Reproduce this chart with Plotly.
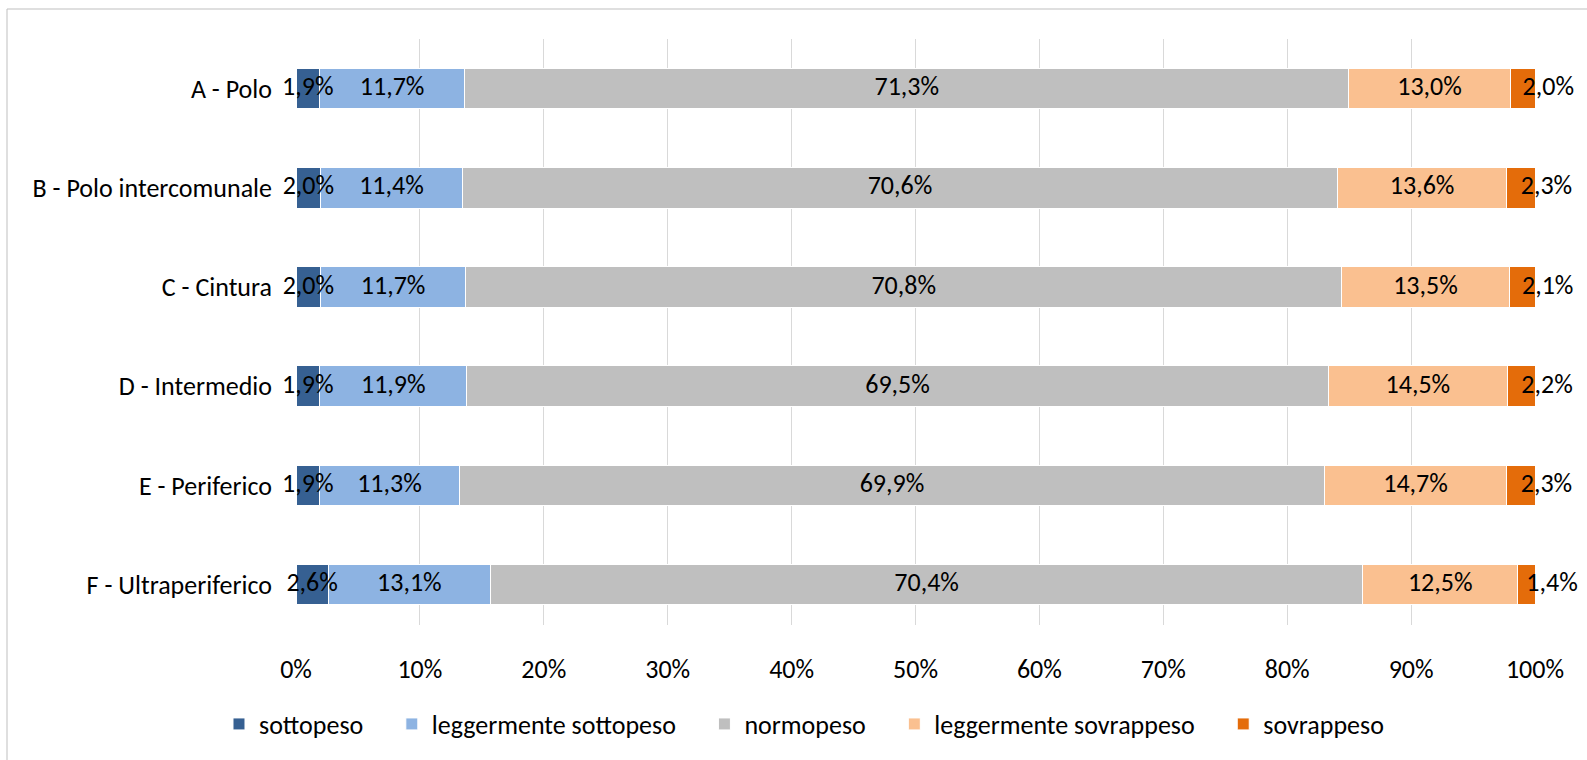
import plotly.graph_objects as go

categories = ["A - Polo", "B - Polo intercomunale", "C - Cintura", "D - Intermedio",
              "E - Periferico", "F - Ultraperiferico"]
sottopeso = [1.9, 2.0, 2.0, 1.9, 1.9, 2.6]
legg_sottopeso = [11.7, 11.4, 11.7, 11.9, 11.3, 13.1]
normopeso = [71.3, 70.6, 70.8, 69.5, 69.9, 70.4]
legg_sovrappeso = [13.0, 13.6, 13.5, 14.5, 14.7, 12.5]
sovrappeso = [2.0, 2.3, 2.1, 2.2, 2.3, 1.4]
series_names = ["sottopeso", "leggermente sottopeso", "normopeso",
                "leggermente sovrappeso", "sovrappeso"]
tick_vals = [0, 10, 20, 30, 40, 50, 60, 70, 80, 90, 100]
tick_text = ["0%", "10%", "20%", "30%", "40%", "50%", "60%", "70%", "80%", "90%", "100%"]

colors = ["#366092", "#8DB3E2", "#BFBFBF", "#FAC090", "#E46C0A"]
FONT = "Calibri, Carlito, Lato, sans-serif"
FS = 26

series = [sottopeso, legg_sottopeso, normopeso, legg_sovrappeso, sovrappeso]
NB = "\u00a0"

fig = go.Figure()
for k, (name, vals, col) in enumerate(zip(series_names, series, colors)):
    pad = NB * 4 if k < len(series_names) - 1 else ""
    fig.add_trace(go.Bar(
        y=categories, x=vals, name=name + pad, orientation="h",
        marker=dict(color=col, line=dict(color="white", width=1)),
        textposition="none", hoverinfo="skip",
    ))

# data labels centred on each (normalised) segment; last segment label to the right
cx, cy, ct = [], [], []
rx, ry, rt = [], [], []
for i, cat in enumerate(categories):
    row = [s[i] for s in series]
    tot = sum(row)
    cum = 0.0
    for j, v in enumerate(row):
        mid = (cum + v / 2) / tot * 100
        lab = f"{v:.1f}%".replace(".", ",")
        if j == len(row) - 1:
            rx.append(mid); ry.append(cat); rt.append(lab)
        else:
            cx.append(mid); cy.append(cat); ct.append(lab)
        cum += v
fig.add_trace(go.Scatter(x=cx, y=cy, text=ct, mode="text", showlegend=False,
                         textposition="middle center", cliponaxis=False,
                         textfont=dict(color="black", size=FS, family=FONT),
                         hoverinfo="skip"))
fig.add_trace(go.Scatter(x=rx, y=ry, text=rt, mode="text", showlegend=False,
                         textposition="middle right", cliponaxis=False,
                         textfont=dict(color="black", size=FS, family=FONT),
                         hoverinfo="skip"))

fig.update_layout(
    barmode="stack", barnorm="percent", bargap=0.59,
    width=1587, height=760,
    margin=dict(l=296, r=52, t=39, b=135),
    paper_bgcolor="white", plot_bgcolor="white",
    font=dict(family=FONT, size=FS, color="black"),
    showlegend=True,
    legend=dict(orientation="h", x=0.41, xanchor="center", y=-0.169, yanchor="middle",
                font=dict(size=FS, family=FONT), traceorder="normal"),
)
fig.update_xaxes(range=[0, 100], tickvals=tick_vals, ticktext=tick_text,
                 showgrid=True, gridcolor="#D9D9D9", gridwidth=1.3, zeroline=False,
                 showline=False, ticks="", ticklabelstandoff=26, fixedrange=True)
fig.update_yaxes(range=[5.407, -0.5], showgrid=False, zeroline=False, showline=False,
                 ticks="", ticklabelstandoff=23, fixedrange=True)
fig.add_shape(type="rect", xref="paper", yref="paper",
              x0=(7 - 296) / 1239, x1=1.2, y0=-0.4, y1=1 + 30 / 586,
              line=dict(color="#BFBFBF", width=1), fillcolor="rgba(0,0,0,0)", layer="below")

fig.write_html("out.html", config={"displayModeBar": False},
               post_script="document.body.style.margin='0';")
